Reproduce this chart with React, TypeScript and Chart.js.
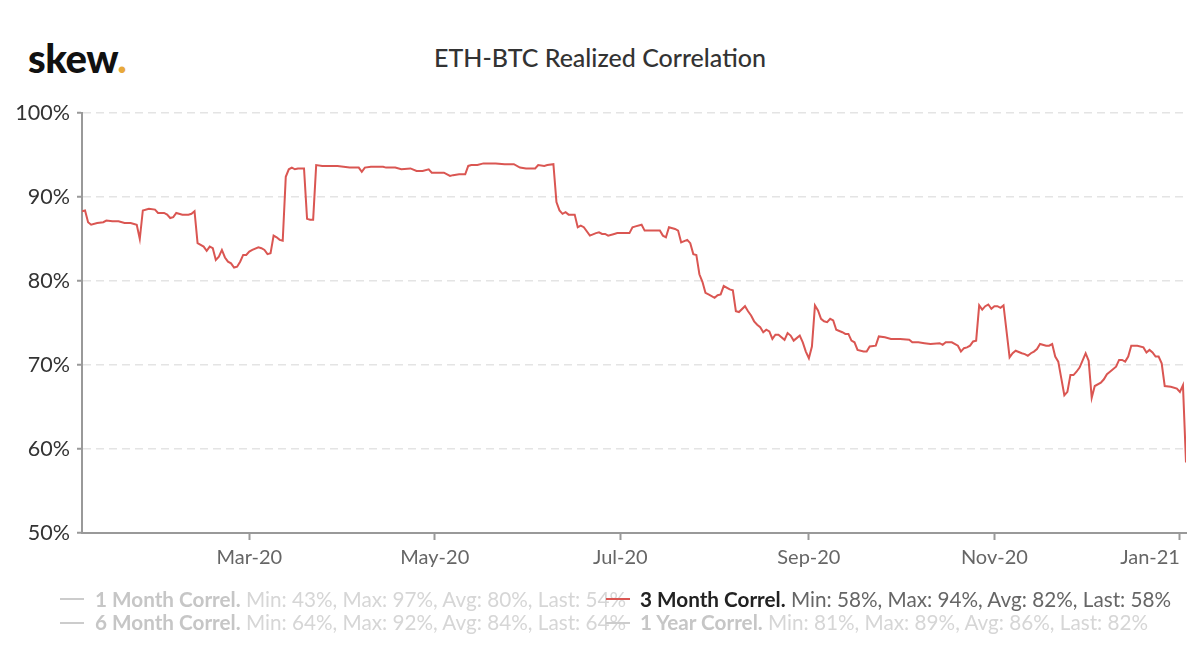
import React, { useEffect, useRef } from 'react';
import { Chart, registerables } from 'chart.js';

Chart.register(...registerables);

// day number counted from 1 Jan 2020, and the 3 month realized correlation (%)
const days = [
  5, 6, 7, 8, 10, 12, 13, 15, 17, 19, 21, 23, 24, 25, 27, 29, 30, 32, 33, 34,
  35, 36, 38, 40, 41, 42, 43, 45, 46, 47, 48, 49, 50, 51, 52, 53, 54, 55, 56, 57,
  58, 59, 60, 61, 63, 64, 65, 66, 67, 68, 69, 70, 71, 72, 73, 74, 75, 76, 78, 79,
  80, 81, 82, 84, 86, 89, 91, 93, 96, 97, 98, 100, 104, 105, 108, 110, 113, 115, 117, 119,
  120, 122, 124, 126, 127, 129, 131, 132, 133, 135, 137, 138, 141, 144, 147, 149, 151, 154, 155, 157,
  158, 160, 161, 162, 163, 164, 165, 167, 168, 169, 170, 172, 174, 175, 176, 177, 178, 180, 181, 183,
  185, 186, 187, 189, 190, 193, 195, 196, 197, 198, 200, 201, 202, 204, 205, 206, 207, 208, 209, 210,
  211, 213, 214, 215, 216, 218, 219, 220, 221, 223, 224, 225, 226, 227, 228, 229, 230, 231, 232, 233,
  234, 236, 237, 238, 239, 240, 241, 242, 243, 244, 245, 246, 247, 248, 249, 250, 251, 252, 253, 255,
  256, 257, 258, 259, 260, 262, 263, 264, 266, 267, 269, 271, 274, 277, 278, 280, 282, 284, 287, 288,
  289, 291, 293, 294, 295, 296, 297, 298, 299, 300, 301, 302, 303, 304, 305, 306, 307, 308, 310, 311,
  312, 314, 315, 316, 317, 318, 319, 320, 322, 323, 324, 325, 326, 327, 328, 329, 330, 331, 332, 333,
  335, 336, 337, 338, 340, 341, 342, 343, 345, 346, 347, 348, 349, 350, 352, 354, 355, 356, 357, 358,
  359, 360, 361, 363, 365, 366, 367, 368,
];

const correl3m = [
  88.3, 88.4, 87.0, 86.7, 86.9, 87.0, 87.2, 87.1, 87.1, 86.9, 86.9, 86.7, 85.0, 88.4, 88.6, 88.5, 88.1, 88.1, 87.9, 87.5,
  87.6, 88.1, 87.9, 87.9, 88.0, 88.3, 84.5, 84.1, 83.6, 84.1, 83.9, 82.5, 82.9, 83.7, 82.8, 82.3, 82.1, 81.6, 81.7, 82.3,
  83.1, 83.1, 83.5, 83.7, 84.0, 83.9, 83.7, 83.2, 83.3, 85.4, 85.2, 84.9, 84.8, 92.4, 93.3, 93.5, 93.3, 93.4, 93.4, 87.4,
  87.3, 87.3, 93.8, 93.7, 93.7, 93.7, 93.6, 93.5, 93.5, 93.0, 93.5, 93.6, 93.6, 93.5, 93.5, 93.3, 93.4, 93.1, 93.1, 93.3,
  92.9, 92.9, 92.9, 92.5, 92.6, 92.7, 92.7, 93.7, 93.8, 93.8, 94.0, 94.0, 94.0, 93.9, 93.9, 93.5, 93.4, 93.4, 93.8, 93.7,
  93.8, 93.9, 89.4, 88.4, 88.0, 88.2, 87.9, 87.9, 86.4, 86.6, 86.4, 85.4, 85.7, 85.8, 85.6, 85.6, 85.4, 85.6, 85.7, 85.7,
  85.7, 86.4, 86.5, 86.7, 86.0, 86.0, 86.0, 85.4, 85.2, 86.4, 86.2, 86.0, 84.6, 84.9, 84.5, 83.2, 83.1, 80.8, 79.9, 78.6,
  78.4, 78.0, 78.3, 78.4, 79.4, 79.0, 78.9, 76.4, 76.3, 77.0, 76.4, 75.9, 75.2, 74.8, 74.5, 73.9, 74.2, 74.0, 73.1, 73.6,
  73.6, 73.0, 73.8, 73.5, 72.9, 73.2, 73.5, 72.7, 71.6, 70.8, 72.2, 77.1, 76.5, 75.5, 75.2, 75.1, 75.5, 75.3, 74.2, 73.9,
  73.7, 73.7, 72.9, 72.7, 71.8, 71.6, 71.6, 72.2, 72.3, 73.4, 73.3, 73.1, 73.1, 73.0, 72.7, 72.7, 72.6, 72.5, 72.6, 72.4,
  72.7, 72.7, 72.3, 71.6, 72.0, 72.1, 72.3, 72.8, 72.9, 77.1, 76.6, 77.0, 77.2, 76.7, 77.0, 77.0, 76.8, 77.1, 70.9, 71.4,
  71.7, 71.4, 71.3, 71.1, 71.4, 71.6, 71.9, 72.5, 72.3, 72.3, 72.5, 71.0, 70.4, 68.4, 66.4, 66.8, 68.8, 68.8, 69.2, 69.7,
  71.4, 70.5, 66.1, 67.5, 67.9, 68.3, 68.9, 69.2, 69.8, 70.6, 70.6, 70.4, 71.0, 72.3, 72.3, 72.1, 71.5, 71.8, 71.5, 71.0,
  71.0, 70.2, 67.5, 67.4, 67.2, 66.8, 67.6, 58.4,
];

// first tick is a blank one at the axis start, so 'inner' alignment only moves the last label
const tickDays = [5, 60, 121, 182, 244, 305, 366];
const tickLabels = ['', 'Mar-20', 'May-20', 'Jul-20', 'Sep-20', 'Nov-20', 'Jan-21'];
const yTicks = [50, 60, 70, 80, 90, 100];

const legendNames = ['1 Month Correl.', '3 Month Correl.', '6 Month Correl.', '1 Year Correl.'];
const legendMin = [43, 58, 64, 81];
const legendMax = [97, 94, 92, 89];
const legendAvg = [80, 82, 84, 86];
const legendLast = [54, 58, 64, 82];
const legendActive = [false, true, false, false];

const LINE_COLOR = 'rgb(218, 86, 82)';

const LegendItem = ({ idx }: { idx: number }) => {
    const col = idx % 2;
    const row = Math.floor(idx / 2);
    const active = legendActive[idx];
    const center = 599 + row * 23.5;
    const dashLeft = col === 0 ? 60 : 606;
    const textLeft = col === 0 ? 95 : 640;
    return (
        <>
            <div style={{ position: 'absolute', left: textLeft, top: center - 10.5, fontSize: 20.7, lineHeight: '20px', whiteSpace: 'nowrap' }}>
                <span style={{ fontWeight: 700, color: active ? '#222' : '#c6c6c6' }}>{legendNames[idx]}</span>
                <span style={{ color: active ? '#666' : '#d6d6d6' }}>
                    {` Min: ${legendMin[idx]}%, Max: ${legendMax[idx]}%, Avg: ${legendAvg[idx]}%, Last: ${legendLast[idx]}%`}
                </span>
            </div>
            <div style={{ position: 'absolute', left: dashLeft, top: center - 1, width: 24, height: 2, background: active ? LINE_COLOR : '#cccccc' }} />
        </>
    );
};

export default function App() {
    const canvasRef = useRef<HTMLCanvasElement>(null);
    const chartRef = useRef<Chart | null>(null);

    useEffect(() => {
        document.body.style.margin = '0';
        if (!canvasRef.current) return;
        if (chartRef.current) chartRef.current.destroy();

        chartRef.current = new Chart(canvasRef.current, {
            type: 'line',
            data: {
                datasets: [{
                    label: '3 Month Correl',
                    data: days.map((d, i) => ({ x: d, y: correl3m[i] })),
                    borderColor: LINE_COLOR,
                    borderWidth: 2,
                    pointRadius: 0,
                    tension: 0,
                    fill: false,
                }],
            },
            options: {
                animation: false,
                responsive: true,
                maintainAspectRatio: false,
                layout: { padding: { top: 113, right: 14, bottom: 97, left: 0 } },
                plugins: { legend: { display: false }, tooltip: { enabled: false } },
                scales: {
                    x: {
                        type: 'linear',
                        min: 5,
                        max: 368,
                        afterBuildTicks: (s) => { s.ticks = tickDays.map((v) => ({ value: v })); },
                        afterFit: (s) => { s.height = 40; },
                        ticks: {
                            autoSkip: false,
                            maxRotation: 0,
                            align: 'inner',
                            padding: 6,
                            color: '#666',
                            font: { family: 'Lato', size: 20 },
                            callback: (v) => tickLabels[tickDays.indexOf(v as number)] ?? '',
                        },
                        grid: {
                            drawOnChartArea: false,
                            tickLength: 7,
                            tickWidth: 2,
                            tickColor: (ctx) => (ctx.index === 0 ? 'rgba(0,0,0,0)' : '#999'),
                        },
                        border: { color: '#999', width: 2 },
                    },
                    y: {
                        min: 50,
                        max: 100,
                        afterBuildTicks: (s) => { s.ticks = yTicks.map((v) => ({ value: v })); },
                        afterFit: (s) => { s.width = 82; },
                        ticks: {
                            padding: 7,
                            color: '#333',
                            font: { family: 'Lato', size: 21.5 },
                            callback: (v) => `${v}%`,
                        },
                        grid: {
                            color: '#e4e4e4',
                            lineWidth: 1.5,
                            tickLength: 5,
                            tickColor: '#999',
                            tickWidth: 2,
                        },
                        border: { color: '#999', width: 2, dash: [8, 5] },
                    },
                },
            },
        });

        return () => {
            if (chartRef.current) chartRef.current.destroy();
            chartRef.current = null;
        };
    }, []);

    return (
        <div style={{ position: 'relative', width: 1200, height: 670, background: '#fff', fontFamily: 'Lato, "Open Sans", sans-serif', overflow: 'hidden' }}>
            <div style={{ position: 'absolute', left: 28, top: 37.5, fontSize: 40, lineHeight: '40px', fontWeight: 900, color: '#111', letterSpacing: -0.5 }}>
                skew<span style={{ color: '#e8a93a' }}>.</span>
            </div>
            <div style={{ position: 'absolute', left: 0, top: 45, width: 1200, textAlign: 'center', fontSize: 25, lineHeight: '25px', fontWeight: 500, color: '#333' }}>
                ETH-BTC Realized Correlation
            </div>
            <div style={{ position: 'absolute', left: 0, top: 0, width: 1200, height: 670 }}>
                <canvas ref={canvasRef}></canvas>
            </div>
            {legendNames.map((_, i) => <LegendItem key={i} idx={i} />)}
        </div>
    );
}
